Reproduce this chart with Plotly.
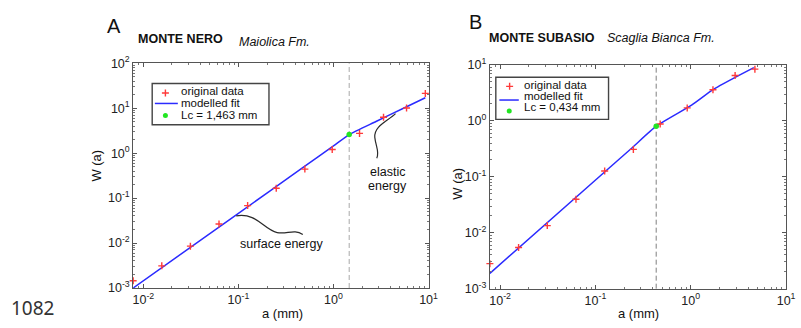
import math
import plotly.graph_objects as go

W_PX, H_PX = 801, 328

# ---------------- data ----------------
A_a = [0.0078125, 0.015625, 0.03125, 0.0625, 0.125, 0.25, 0.5, 0.97, 1.88, 3.36, 5.87, 9.25]
A_W = [0.00145, 0.00311, 0.00853, 0.0265, 0.068, 0.166, 0.441, 1.20, 2.75, 6.3, 10.1, 21.3]
A_fit_a = [0.0078125, 0.1, 0.5, 1.0, 1.463, 2.8, 5.73, 9.25]
A_fit_W = [0.001, 0.0458, 0.512, 1.448, 2.59, 5.04, 10.5, 17.1]
A_Lc = 1.463
A_Wc = 2.59

B_a = [0.0078125, 0.015625, 0.03125, 0.0625, 0.125, 0.25, 0.478, 0.918, 1.71, 2.92, 4.71]
B_W = [0.0028, 0.00545, 0.0134, 0.0397, 0.127, 0.308, 0.875, 1.70, 3.58, 6.45, 8.38]
B_fit_a = [0.0078125, 0.119, 0.243, 0.434, 1.02, 1.71, 2.92, 4.59]
B_fit_W = [0.00188, 0.113, 0.33, 0.80, 1.9, 3.6, 5.95, 8.93]
B_Lc = 0.434
B_Wc = 0.80

x_tickvals = [0.01, 0.1, 1, 10]
x_ticktext = ["10<sup>-2</sup>", "10<sup>-1</sup>", "10<sup>0</sup>", "10<sup>1</sup>"]
A_y_tickvals = [0.001, 0.01, 0.1, 1, 10, 100]
A_y_ticktext = ["10<sup>-3</sup>", "10<sup>-2</sup>", "10<sup>-1</sup>", "10<sup>0</sup>", "10<sup>1</sup>", "10<sup>2</sup>"]
B_y_tickvals = [0.001, 0.01, 0.1, 1, 10]
B_y_ticktext = ["10<sup>-3</sup>", "10<sup>-2</sup>", "10<sup>-1</sup>", "10<sup>0</sup>", "10<sup>1</sup>"]

# ---------------- styles ----------------
RED = "#ff3a3a"
BLUE = "#2b2bff"
GREEN = "#22e622"
AXC = "#555555"
FONT = "Liberation Sans, Arial, sans-serif"

def dx(px):
    return px / W_PX

def dy(py):
    return 1 - py / H_PX

fig = go.Figure()

def add_panel(xa, ya, a, w, fa, fw, lc, wc):
    fig.add_trace(go.Scatter(x=fa, y=fw, mode="lines", xaxis=xa, yaxis=ya,
                             line=dict(color=BLUE, width=1.5, shape="spline", smoothing=0.5),
                             showlegend=False, hoverinfo="skip"))
    fig.add_trace(go.Scatter(x=a, y=w, mode="markers", xaxis=xa, yaxis=ya,
                             marker=dict(symbol="cross-thin", size=5,
                                         line=dict(color=RED, width=1.4), color=RED),
                             showlegend=False, hoverinfo="skip", cliponaxis=False))
    fig.add_trace(go.Scatter(x=[lc], y=[wc], mode="markers", xaxis=xa, yaxis=ya,
                             marker=dict(symbol="circle", size=5.5, color=GREEN),
                             showlegend=False, hoverinfo="skip"))

add_panel("x", "y", A_a, A_W, A_fit_a, A_fit_W, A_Lc, A_Wc)
add_panel("x2", "y2", B_a, B_W, B_fit_a, B_fit_W, B_Lc, B_Wc)

# legend sample markers on a pixel overlay subplot
fig.add_trace(go.Scatter(x=[166.7, 515.7], y=[88.3, 81.3], mode="markers", xaxis="x3", yaxis="y3",
                         marker=dict(symbol="cross-thin", size=5, line=dict(color=RED, width=1.4)),
                         showlegend=False, hoverinfo="skip", cliponaxis=False))
fig.add_trace(go.Scatter(x=[166.7, 515.3], y=[112, 107.3], mode="markers", xaxis="x3", yaxis="y3",
                         marker=dict(symbol="circle", size=5, color=GREEN),
                         showlegend=False, hoverinfo="skip", cliponaxis=False))

minor_vals = [m * 10 ** e for e in range(-3, 2) for m in range(2, 10)]

def log_axis(domain, rng, tickvals, ticktext, anchor):
    return dict(type="log", domain=domain, range=rng, anchor=anchor,
                showline=True, linecolor=AXC, linewidth=1, mirror="allticks",
                ticks="inside", ticklen=4, tickcolor=AXC, tickwidth=1,
                showgrid=False, zeroline=False,
                tickmode="array", tickvals=tickvals, ticktext=ticktext,
                tickfont=dict(family=FONT, size=12.5, color="#222"),
                minor=dict(ticks="inside", ticklen=2, tickcolor="#777", tickvals=minor_vals,
                           showgrid=False),
                fixedrange=True)

xr = [math.log10(0.0078125), 1]
fig.update_layout(
    width=W_PX, height=H_PX,
    margin=dict(l=0, r=0, t=0, b=0),
    paper_bgcolor="white", plot_bgcolor="rgba(0,0,0,0)",
    showlegend=False,
    xaxis=log_axis([dx(134), dx(433.5)], xr, x_tickvals, x_ticktext, "y"),
    yaxis=log_axis([dy(293.3), dy(57)], [-3, 2], A_y_tickvals, A_y_ticktext, "x"),
    xaxis2=log_axis([dx(495.7), dx(796)], xr, x_tickvals, x_ticktext, "y2"),
    yaxis2=log_axis([dy(294), dy(58.7)], [-3, 1], B_y_tickvals, B_y_ticktext, "x2"),
    xaxis3=dict(domain=[0, 1], range=[0, W_PX], visible=False, anchor="y3", fixedrange=True),
    yaxis3=dict(domain=[0, 1], range=[H_PX, 0], visible=False, anchor="x3", fixedrange=True),
)

shapes = []
# vertical Lc lines
shapes.append(dict(type="line", xref="x", yref="y domain", x0=A_Lc, x1=A_Lc, y0=0, y1=1,
                   line=dict(color="#a8a8a8", width=1, dash="5px,3px"), layer="below"))
shapes.append(dict(type="line", xref="x2", yref="y2 domain", x0=B_Lc, x1=B_Lc, y0=0, y1=1,
                   line=dict(color="#606060", width=0.8, dash="5px,3px"), layer="below"))

# legend boxes
def px_rect(x0, y0, x1, y1):
    return dict(type="rect", xref="paper", yref="paper", x0=dx(x0), x1=dx(x1), y0=dy(y1), y1=dy(y0),
                line=dict(color="#444444", width=1.4), fillcolor="white", layer="below")

shapes.append(px_rect(153.3, 78.3, 271.7, 121.7))
shapes.append(px_rect(501.7, 71.7, 616, 116))
# legend line samples
shapes.append(dict(type="line", xref="paper", yref="paper", x0=dx(156), x1=dx(179.3), y0=dy(99.3), y1=dy(99.3),
                   line=dict(color=BLUE, width=1.5)))
shapes.append(dict(type="line", xref="paper", yref="paper", x0=dx(505.3), x1=dx(525), y0=dy(95.7), y1=dy(95.7),
                   line=dict(color=BLUE, width=1.5)))

# callout curves (pixel coordinates on overlay axis)
shapes.append(dict(type="path", xref="x3", yref="y3",
                   path="M 238.5,217.5 C 260,214 266,232 280,235 C 290,237 297,231 306,237",
                   line=dict(color="#2a2a2a", width=1.2)))
shapes.append(dict(type="path", xref="x3", yref="y3",
                   path="M 400,110 C 392,118 378,123 379,135 C 380,145 384,150 381,157",
                   line=dict(color="#2a2a2a", width=1.2)))
fig.update_layout(shapes=shapes)

ann = []
def text(x, y, s, size=13, xanchor="left", bold=False, italic=False, color="#111", family=FONT, angle=0):
    t = s
    if bold:
        t = "<b>" + t + "</b>"
    if italic:
        t = "<i>" + t + "</i>"
    ann.append(dict(x=x, y=y, xref="x3", yref="y3", text=t, showarrow=False,
                    xanchor=xanchor, yanchor="middle", textangle=angle,
                    font=dict(family=family, size=size, color=color)))

# panel letters and titles
text(105, 18, "A", size=20)
text(472, 14, "B", size=20)
text(137, 32, "MONTE NERO", size=12.5, bold=True)
text(239, 35, "Maiolica Fm.", size=12.5, italic=True)
text(493, 31, "MONTE SUBASIO", size=12.5, bold=True)
text(612, 31, "Scaglia Bianca Fm.", size=12.5, italic=True)

# legend texts
text(180, 86, "original data", size=11.5)
text(180, 98.5, "modelled fit", size=11.5)
text(180, 111, "Lc = 1,463 mm", size=11.5)
text(528, 80.3, "original data", size=11.5)
text(528, 91.5, "modelled fit", size=11.5)
text(528, 102.8, "Lc = 0,434 mm", size=11.5)

# axis titles
text(285.7, 320, "a (mm)", size=13, xanchor="center")
text(646.7, 320, "a (mm)", size=13, xanchor="center")
text(97, 165, "W (a)", size=13, xanchor="center", angle=-90)
text(462.5, 183.5, "W (a)", size=13, xanchor="center", angle=-90)

# callout labels
text(240, 247.5, "surface energy", size=12.5)
text(392, 171, "elastic", size=12.5, xanchor="center")
text(392, 186, "energy", size=12.5, xanchor="center")

# page line number
text(8, 314, "1082", size=19, family="Noto Sans, sans-serif", color="#333")

fig.update_layout(annotations=ann)

fig.write_html("out.html")
